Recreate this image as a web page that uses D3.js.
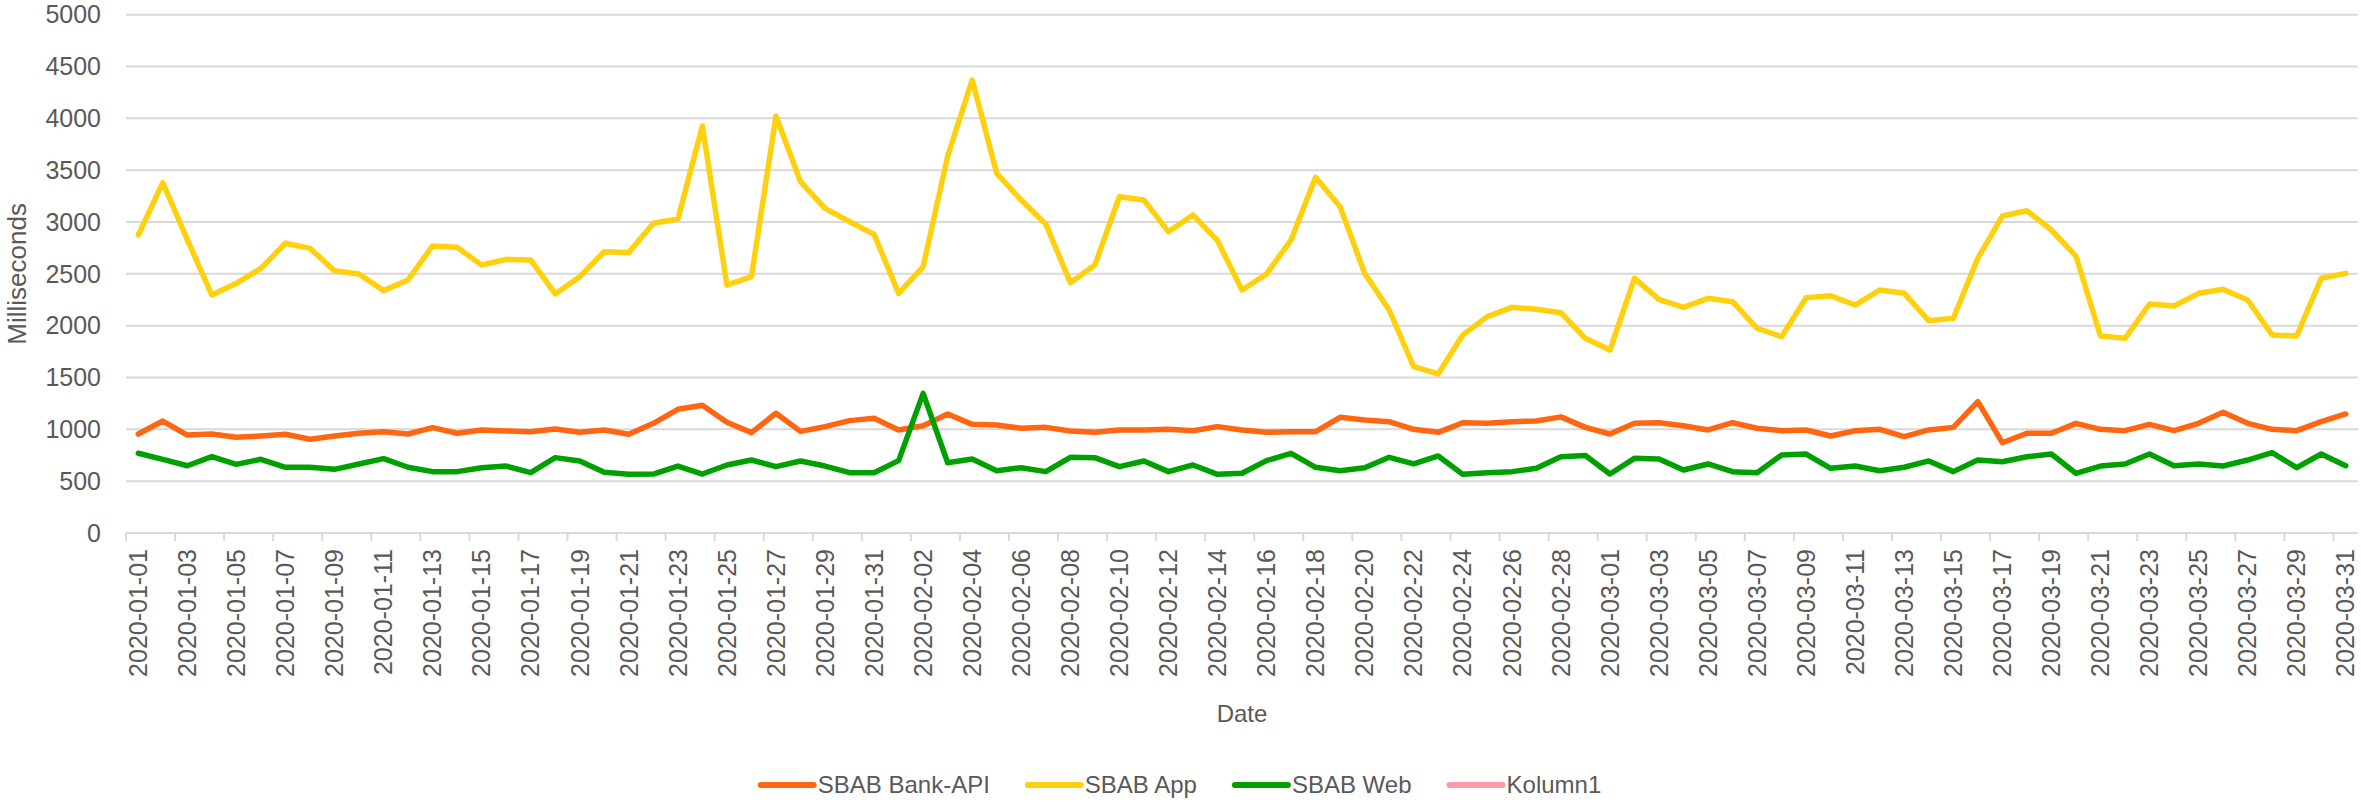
<!DOCTYPE html>
<html>
<head>
<meta charset="utf-8">
<script src="https://cdn.jsdelivr.net/npm/d3@7"></script>
<style>
  body { margin: 0; background: #fff; }
  text { font-family: "Liberation Sans", Arial, sans-serif; fill: #595959; }
</style>
</head>
<body>
<div id="chart"></div>
<script>
// days 2020-01-01 .. 2020-03-31
var parseDay = d3.timeParse("%Y-%m-%d");
var fmtDay = d3.timeFormat("%Y-%m-%d");
var dates = d3.timeDay.range(parseDay("2020-01-01"), parseDay("2020-04-01")).map(fmtDay);

var bankApi = [955, 1080, 945, 955, 923, 936, 952, 904, 936, 962,
               977, 955, 1016, 962, 994, 984, 977, 1003, 971, 994,
               952, 1058, 1193, 1232, 1068, 968, 1155, 980, 1026, 1084,
               1106, 994, 1035, 1148, 1048, 1042, 1010, 1019, 984, 971,
               994, 994, 1000, 987, 1026, 994, 971, 977, 977, 1116,
               1090, 1074, 1000, 971, 1064, 1058, 1074, 1080, 1120, 1019,
               955, 1058, 1064, 1035, 994, 1064, 1010, 987, 994, 936,
               987, 1000, 929, 994, 1019, 1267, 871, 962, 962, 1058,
               1000, 987, 1048, 987, 1058, 1164, 1058, 1000, 987, 1074,
               1148];

var app = [2875, 3379, 2830, 2296, 2409, 2553, 2795, 2746, 2530, 2499,
           2338, 2441, 2769, 2756, 2585, 2640, 2634, 2306, 2473, 2714,
           2707, 2988, 3029, 3926, 2392, 2473, 4023, 3389, 3132, 3003,
           2881, 2312, 2569, 3637, 4370, 3470, 3212, 2981, 2415, 2585,
           3244, 3212, 2907, 3068, 2820, 2344, 2499, 2827, 3431, 3148,
           2505, 2151, 1604, 1534, 1910, 2087, 2177, 2158, 2125, 1878,
           1765, 2457, 2254, 2177, 2264, 2231, 1975, 1894, 2270, 2289,
           2199, 2344, 2312, 2048, 2071, 2650, 3058, 3109, 2923, 2672,
           1900, 1878, 2209, 2190, 2312, 2351, 2248, 1910, 1900, 2457,
           2505];

var web = [769, 711, 649, 736, 662, 711, 634, 634, 614, 666,
           717, 634, 592, 592, 630, 646, 582, 727, 695, 585,
           566, 569, 646, 569, 656, 704, 640, 695, 646, 582,
           582, 698, 1347, 678, 714, 601, 630, 592, 730, 727,
           640, 695, 592, 656, 566, 576, 698, 769, 634, 601,
           630, 730, 666, 743, 566, 582, 592, 624, 736, 748,
           569, 720, 714, 608, 666, 592, 582, 752, 762, 624,
           646, 601, 634, 695, 592, 704, 688, 736, 762, 576,
           646, 666, 762, 649, 666, 646, 704, 775, 630, 762,
           649];

var kolumn1 = [];   // empty series, legend only

var seriesNames = ["SBAB Bank-API", "SBAB App", "SBAB Web", "Kolumn1"];
var seriesColors = ["#ff6611", "#ffd00d", "#00a000", "#ff9aaa"];
var yTicks = [0, 500, 1000, 1500, 2000, 2500, 3000, 3500, 4000, 4500, 5000];

var series = [bankApi, app, web, kolumn1].map(function(vals, i) {
    return { name: seriesNames[i], color: seriesColors[i], values: vals };
});

var w = 2361,
    h = 802;

var svg = d3.select("#chart").append("svg")
    .attr("width", w)
    .attr("height", h);

var x = d3.scaleBand()
    .domain(dates)
    .range([126, 2358]);

var y = d3.scaleLinear()
    .domain([0, 5000])
    .range([533, 14.7]);

// gridlines
svg.selectAll(".grid")
   .data(yTicks)
   .enter()
   .append("line")
   .attr("class", "grid")
   .attr("x1", x.range()[0])
   .attr("x2", x.range()[1])
   .attr("y1", function(d) { return y(d); })
   .attr("y2", function(d) { return y(d); })
   .style("stroke", "#d9d9d9")
   .style("stroke-width", 2);

// category tick marks, every second boundary
var tickIdx = d3.range(0, dates.length, 2);
svg.selectAll(".xtick")
   .data(tickIdx)
   .enter()
   .append("line")
   .attr("x1", function(k) { return x.range()[0] + k * x.step(); })
   .attr("x2", function(k) { return x.range()[0] + k * x.step(); })
   .attr("y1", y(0))
   .attr("y2", y(0) + 8)
   .style("stroke", "#d9d9d9")
   .style("stroke-width", 2);

// y labels
svg.selectAll(".ylab")
   .data(yTicks)
   .enter()
   .append("text")
   .attr("x", 101)
   .attr("y", function(d) { return y(d); })
   .attr("dy", "0.35em")
   .attr("text-anchor", "end")
   .style("font-size", "25px")
   .text(function(d) { return d; });

// x labels
svg.selectAll(".xlab")
   .data(tickIdx)
   .enter()
   .append("text")
   .attr("transform", function(k) {
       return "translate(" + (x(dates[k]) + x.bandwidth() / 2) + "," + (y(0) + 16) + ") rotate(-90)";
   })
   .attr("dy", "0.35em")
   .attr("text-anchor", "end")
   .style("font-size", "25px")
   .text(function(k) { return dates[k]; });

// axis titles
svg.append("text")
   .attr("x", (x.range()[0] + x.range()[1]) / 2)
   .attr("y", 722)
   .attr("text-anchor", "middle")
   .style("font-size", "24px")
   .text("Date");

svg.append("text")
   .attr("transform", "translate(26," + ((y(0) + y(5000)) / 2) + ") rotate(-90)")
   .attr("text-anchor", "middle")
   .style("font-size", "26px")
   .text("Milliseconds");

// lines
var line = d3.line()
    .x(function(d, i) { return x(dates[i]) + x.bandwidth() / 2; })
    .y(function(d) { return y(d); });

svg.selectAll(".series")
   .data(series.filter(function(s) { return s.values.length; }))
   .enter()
   .append("path")
   .attr("d", function(s) { return line(s.values); })
   .style("fill", "none")
   .style("stroke", function(s) { return s.color; })
   .style("stroke-width", 5.5)
   .style("stroke-linejoin", "round")
   .style("stroke-linecap", "round");

// legend
var legend = svg.append("g");
var lx = 0;
series.forEach(function(s, i) {
    var g = legend.append("g").attr("transform", "translate(" + lx + ",0)");
    g.append("line")
     .attr("x1", 2).attr("x2", 55)
     .attr("y1", 0).attr("y2", 0)
     .style("stroke", s.color)
     .style("stroke-width", 6)
     .style("stroke-linecap", "round");
    var t = g.append("text")
     .attr("x", 59)
     .attr("dy", "0.35em")
     .style("font-size", "24px")
     .text(s.name);
    lx += 59 + t.node().getComputedTextLength() + 36;
});
var legendW = lx - 36;
legend.attr("transform", "translate(" + (1180 - legendW / 2) + ",785)");
</script>
</body>
</html>
